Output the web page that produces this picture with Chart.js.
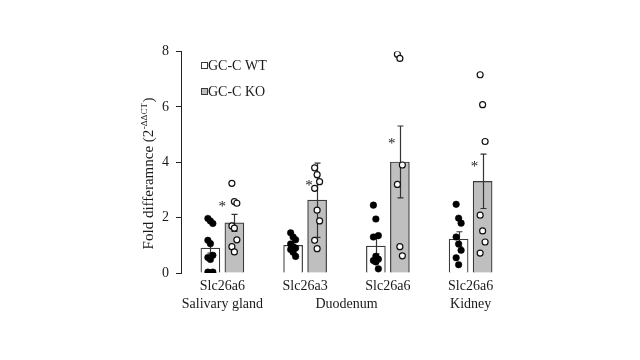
<!DOCTYPE html>
<html>
<head>
<meta charset="utf-8">
<script src="https://cdn.jsdelivr.net/npm/chart.js@4.4.1/dist/chart.umd.min.js"></script>
<style>
  html, body { margin: 0; padding: 0; background: #fff; }
  #wrap { width: 640px; height: 360px; position: relative; }
</style>
</head>
<body>
<div id="wrap"><canvas id="chart"></canvas></div>
<script>
// Gene per group (first line of x labels) and tissue (second line)
const genes = ['Slc26a6', 'Slc26a3', 'Slc26a6', 'Slc26a6'];
const tissues = ['Salivary gland', 'Duodenum', 'Kidney'];
const tissueAt = [0, 1.5, 3];

// Bar means and SEM
const wtMean = [0.9, 1.0, 0.97, 1.22];
const wtErr = [0.18, 0.12, 0.28, 0.27];
const koMean = [1.81, 2.63, 4.01, 3.31];
const koErr = [0.31, 1.34, 1.3, 0.98];

// Individual animals
const wtPoints = [
  [1.97, 1.88, 1.79, 1.18, 1.06, 0.64, 0.56, 0.49, 0.03, 0.03],
  [1.45, 1.3, 1.2, 1.05, 0.95, 0.9, 0.85, 0.75, 0.6],
  [2.45, 1.95, 1.35, 1.3, 0.6, 0.5, 0.45, 0.4, 0.15],
  [2.48, 1.98, 1.8, 1.3, 1.05, 0.82, 0.55, 0.3]
];
const koPoints = [
  [3.24, 2.58, 2.52, 1.7, 1.62, 1.2, 0.95, 0.76],
  [3.8, 3.55, 3.3, 3.06, 2.27, 1.88, 1.18, 0.88],
  [7.9, 7.75, 3.9, 3.2, 0.95, 0.62],
  [7.16, 6.08, 4.75, 2.09, 1.52, 1.12, 0.72]
];

// Significance stars (KO vs WT)
const starLevel = [2.5, 3.25, 4.75, 3.95];

const yTicks = [0, 2, 4, 6, 8];

const FONT = '"Liberation Serif", "Times New Roman", serif';
const INK = '#1a1a1a';
const KO_GREY = '#bfbfbf';
const BAR_EDGE = '#3a3a3a';
const OFFSET = 0.145; // half distance between paired bars, in category units

function toXY(groups, shift) {
  const out = [];
  groups.forEach((vals, g) => {
    vals.forEach((v, i) => {
      const jitter = ((i % 3) - 1) * 0.03;
      out.push({ x: g + shift + jitter, y: v });
    });
  });
  return out;
}

function barXY(means, shift) {
  return means.map((v, g) => ({ x: g + shift, y: v }));
}

const extras = {
  id: 'extras',
  afterDatasetDraw(chart, args) {
    const ds = chart.data.datasets[args.index];
    if (!ds.errs) return;
    const ctx = chart.ctx;
    const y = chart.scales.y;
    ctx.save();
    ctx.strokeStyle = '#333';
    ctx.lineWidth = 1.2;
    args.meta.data.forEach((bar, i) => {
      const m = ds.data[i].y;
      const top = y.getPixelForValue(m + ds.errs[i]);
      const bot = y.getPixelForValue(m - ds.errs[i]);
      const x = Math.round(bar.x) + 0.5;
      ctx.beginPath();
      ctx.moveTo(x, top); ctx.lineTo(x, bot);
      ctx.moveTo(x - 3, top); ctx.lineTo(x + 3, top);
      ctx.moveTo(x - 3, bot); ctx.lineTo(x + 3, bot);
      ctx.stroke();
    });
    ctx.restore();
  },
  afterDraw(chart) {
    const ctx = chart.ctx;
    const xs = chart.scales.xs;
    const y = chart.scales.y;
    ctx.save();
    ctx.fillStyle = INK;

    // stars
    ctx.font = '15px ' + FONT;
    ctx.textAlign = 'center';
    ctx.textBaseline = 'alphabetic';
    starLevel.forEach((v, g) => {
      const dx = g === 0 ? -12 : -8;
      ctx.fillText('*', xs.getPixelForValue(g + OFFSET) + dx, y.getPixelForValue(v) + 7);
    });

    // tissue labels (second x line)
    ctx.font = '14px ' + FONT;
    ctx.textBaseline = 'middle';
    tissues.forEach((t, i) => {
      ctx.fillText(t, xs.getPixelForValue(tissueAt[i]), 304);
    });

    // legend
    const legend = [
      { label: 'GC-C WT', fill: '#ffffff', y: 66 },
      { label: 'GC-C KO', fill: KO_GREY, y: 92 }
    ];
    ctx.textAlign = 'left';
    ctx.font = '14px ' + FONT;
    legend.forEach(item => {
      ctx.fillStyle = item.fill;
      ctx.fillRect(201.5, item.y - 3.5, 6, 6);
      ctx.strokeStyle = BAR_EDGE;
      ctx.lineWidth = 1;
      ctx.strokeRect(201.5, item.y - 3.5, 6, 6);
      ctx.fillStyle = INK;
      ctx.fillText(item.label, 208, item.y + 0.5);
    });

    // y axis title with superscript
    const main = 'Fold differamnce (2';
    const sup = '-\u0394\u0394CT';
    const tail = ')';
    ctx.translate(149, 174);
    ctx.rotate(-Math.PI / 2);
    ctx.font = '15px ' + FONT;
    const w1 = ctx.measureText(main).width;
    const w3 = ctx.measureText(tail).width;
    ctx.font = '9px ' + FONT;
    const w2 = ctx.measureText(sup).width;
    let x0 = -(w1 + w2 + w3) / 2;
    ctx.textBaseline = 'middle';
    ctx.fillStyle = INK;
    ctx.font = '15px ' + FONT;
    ctx.fillText(main, x0, 0);
    ctx.font = '9px ' + FONT;
    ctx.fillText(sup, x0 + w1 + 0.5, -4);
    ctx.font = '15px ' + FONT;
    ctx.fillText(tail, x0 + w1 + w2 + 1, 0);
    ctx.restore();
  }
};

new Chart(document.getElementById('chart'), {
  type: 'bar',
  data: {
    labels: genes,
    datasets: [
      {
        type: 'scatter',
        label: 'WT animals',
        data: toXY(wtPoints, -OFFSET),
        xAxisID: 'xs',
        pointRadius: 3.3,
        pointBackgroundColor: '#000',
        pointBorderColor: '#000',
        pointBorderWidth: 0.5,
        order: 1
      },
      {
        type: 'scatter',
        label: 'KO animals',
        data: toXY(koPoints, OFFSET),
        xAxisID: 'xs',
        pointRadius: 3,
        pointBackgroundColor: '#fff',
        pointBorderColor: '#111',
        pointBorderWidth: 1.2,
        order: 1
      },
      {
        label: 'GC-C WT',
        data: barXY(wtMean, -OFFSET),
        errs: wtErr,
        backgroundColor: '#ffffff',
        borderColor: BAR_EDGE,
        borderWidth: 1.2,
        xAxisID: 'xs',
        order: 2
      },
      {
        label: 'GC-C KO',
        data: barXY(koMean, OFFSET),
        errs: koErr,
        backgroundColor: KO_GREY,
        borderColor: BAR_EDGE,
        borderWidth: 1.2,
        xAxisID: 'xs',
        order: 2
      }
    ]
  },
  options: {
    responsive: true,
    maintainAspectRatio: false,
    animation: false,
    events: [],
    layout: { padding: { left: 0, right: 128, top: 51.5, bottom: 0 } },
    datasets: {
      bar: { grouped: false, barThickness: 19 }
    },
    scales: {
      x: {
        type: 'category',
        offset: true,
        grid: { display: false, drawTicks: false },
        border: { display: false },
        ticks: { color: INK, font: { family: FONT, size: 14 }, padding: 5, maxRotation: 0, autoSkip: false },
        afterFit(scale) { scale.height = 87; }
      },
      xs: {
        type: 'linear',
        display: false,
        offset: false,
        min: -0.5,
        max: 3.5
      },
      y: {
        min: 0,
        max: 8,
        afterBuildTicks(scale) { scale.ticks = yTicks.map(v => ({ value: v })); },
        grid: { drawOnChartArea: false, drawTicks: true, tickLength: 5, color: '#222' },
        border: { display: true, color: '#222', width: 1 },
        ticks: { color: INK, font: { family: FONT, size: 14 }, padding: 7 },
        afterFit(scale) { scale.width = 181; }
      }
    },
    plugins: {
      legend: { display: false },
      tooltip: { enabled: false }
    }
  },
  plugins: [extras]
});
</script>
</body>
</html>
